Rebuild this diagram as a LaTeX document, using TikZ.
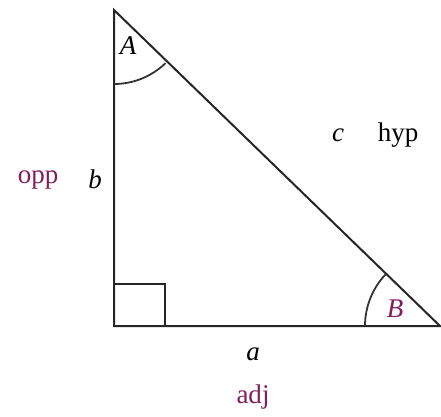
\documentclass[tikz,border=0pt]{standalone}
\usepackage{fontspec}
\setmainfont{Liberation Serif}
\definecolor{lbl}{RGB}{130,30,90}
\begin{document}
\begin{tikzpicture}[x=1pt,y=-1pt,
  edge/.style={line width=2pt,black!85},
  arcline/.style={line width=1.8pt,black!80},
  var/.style={font=\fontsize{27}{29}\selectfont\itshape},
  word/.style={font=\fontsize{27}{29}\selectfont},
  purp/.style={text=lbl}]
\useasboundingbox (0,0) rectangle (441,416);
\coordinate (T) at (114,10);
\coordinate (R) at (114,326);
\coordinate (Q) at (440,326);
\draw[edge] (T) -- (R) -- (Q) -- cycle;
\draw[edge] (114,284) -- (165,284) -- (165,326);
\draw[arcline] ([shift={(0,74)}]T) arc[start angle=90,end angle=45.9,radius=74];
\draw[arcline] ([shift={(-75,0)}]Q) arc[start angle=180,end angle=224.1,radius=75];
\node[var] (A) at (128,46) {A};
\node[var,purp] (B) at (395,309) {B};
\node[word,purp] (opp) at (38,180) {opp};
\node[var] (b) at (95,179) {b};
\node[var] (c) at (338,135) {c};
\node[word] (hyp) at (398,135) {hyp};
\node[var] (a) at (253,354) {a};
\node[word,purp] (adj) at (253,397) {adj};
\end{tikzpicture}
\end{document}
